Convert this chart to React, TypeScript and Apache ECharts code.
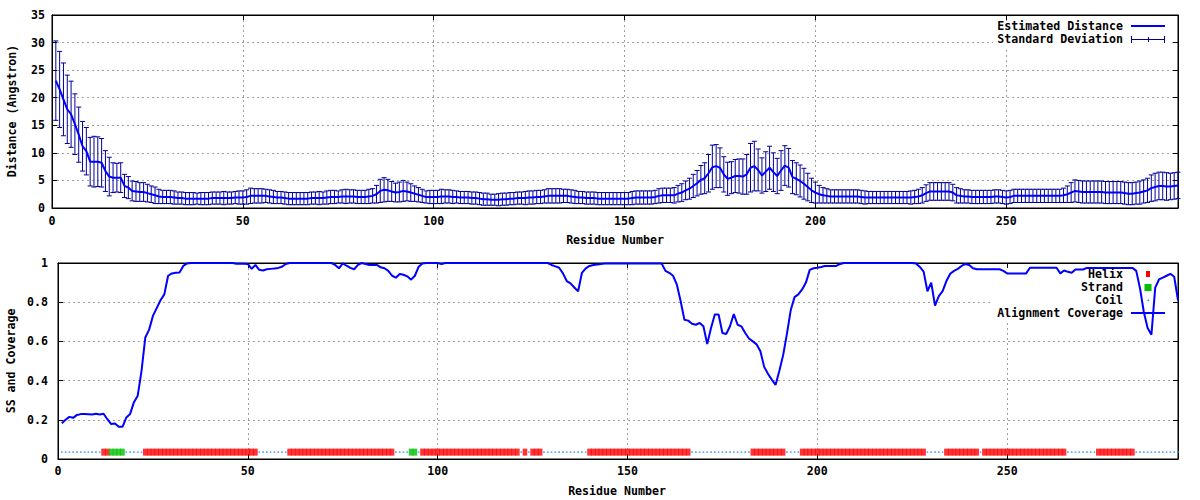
import React, { useEffect, useRef } from "react";
import * as echarts from "echarts";

// Estimated distance (Angstrom) per residue 1..295
const distance = [
  23.1, 21.5, 19.7, 17.9, 17.0, 15.2, 13.3, 11.2, 10.3, 8.4,
  8.4, 8.4, 8.2, 6.7, 5.7, 5.5, 5.5, 5.5, 4.0, 3.7,
  3.1, 3.0, 2.9, 2.9, 2.7, 2.5, 2.3, 2.1, 2.0, 2.0,
  2.0, 1.9, 1.8, 1.8, 1.7, 1.7, 1.7, 1.7, 1.7, 1.7,
  1.7, 1.8, 1.8, 1.8, 1.8, 1.8, 1.8, 1.9, 1.9, 1.9,
  2.0, 2.2, 2.2, 2.2, 2.2, 2.2, 2.1, 2.0, 1.9, 1.9,
  1.8, 1.7, 1.7, 1.7, 1.7, 1.7, 1.7, 1.8, 1.8, 1.8,
  1.8, 1.9, 2.0, 2.0, 2.0, 2.1, 2.1, 2.1, 2.1, 2.0,
  2.0, 2.0, 2.1, 2.2, 2.5, 3.1, 3.3, 3.2, 3.0, 2.8,
  2.9, 3.1, 3.0, 2.8, 2.6, 2.4, 2.2, 2.0, 2.0, 2.0,
  2.0, 2.1, 2.1, 2.1, 2.0, 2.0, 1.9, 1.9, 1.9, 1.8,
  1.8, 1.7, 1.6, 1.6, 1.5, 1.5, 1.5, 1.6, 1.6, 1.7,
  1.7, 1.8, 1.8, 1.8, 1.9, 1.9, 2.0, 2.0, 2.1, 2.2,
  2.2, 2.2, 2.2, 2.2, 2.2, 2.1, 2.0, 1.9, 1.9, 1.8,
  1.8, 1.8, 1.7, 1.7, 1.7, 1.7, 1.7, 1.7, 1.7, 1.7,
  1.7, 1.8, 1.9, 1.9, 1.9, 1.9, 1.9, 2.0, 2.2, 2.3,
  2.3, 2.3, 2.3, 2.6, 2.8, 3.2, 3.5, 4.0, 4.5, 5.1,
  5.4, 6.3, 7.4, 7.6, 7.3, 6.1, 5.3, 5.5, 5.8, 5.8,
  5.7, 6.1, 7.3, 7.6, 6.9, 5.9, 6.6, 7.3, 6.5, 5.8,
  6.8, 7.7, 7.3, 5.6, 5.3, 4.9, 4.4, 3.8, 3.2, 2.8,
  2.5, 2.3, 2.2, 2.1, 2.1, 2.1, 2.1, 2.1, 2.1, 2.1,
  2.1, 2.0, 1.9, 1.9, 1.9, 1.9, 1.9, 1.9, 1.9, 1.9,
  1.9, 1.9, 1.9, 1.9, 1.9, 2.0, 2.1, 2.3, 2.7, 3.0,
  3.0, 3.0, 3.0, 3.0, 3.0, 2.8, 2.3, 2.2, 2.1, 2.1,
  2.0, 2.0, 2.0, 2.0, 2.0, 2.0, 2.1, 2.1, 2.0, 1.9,
  2.0, 2.2, 2.2, 2.2, 2.2, 2.2, 2.2, 2.2, 2.2, 2.2,
  2.2, 2.2, 2.2, 2.2, 2.3, 2.5, 2.8, 3.1, 3.0, 2.9,
  2.9, 2.9, 2.9, 2.9, 2.9, 2.8, 2.8, 2.8, 2.8, 2.8,
  2.7, 2.6, 2.6, 2.7, 2.8, 3.0, 3.2, 3.6, 3.8, 4.0,
  4.0, 3.9, 3.9, 4.0, 4.1,
];

// Standard deviation per residue 1..295
const stdDev = [
  7.2, 6.9, 6.6, 6.2, 6.0, 5.5, 5.0, 4.5, 4.3, 4.4,
  4.6, 4.5, 4.4, 3.7, 3.5, 2.7, 2.6, 2.7, 2.1, 2.0,
  1.8, 1.8, 1.7, 1.7, 1.6, 1.5, 1.5, 1.3, 1.2, 1.2,
  1.2, 1.2, 1.1, 1.1, 1.1, 1.1, 1.1, 1.0, 1.1, 1.1,
  1.1, 1.1, 1.1, 1.1, 1.2, 1.1, 1.1, 1.1, 1.2, 1.2,
  1.3, 1.4, 1.3, 1.3, 1.3, 1.2, 1.2, 1.2, 1.1, 1.1,
  1.1, 1.1, 1.1, 1.1, 1.1, 1.1, 1.1, 1.1, 1.1, 1.2,
  1.1, 1.2, 1.2, 1.2, 1.1, 1.2, 1.3, 1.2, 1.2, 1.2,
  1.2, 1.2, 1.3, 1.3, 1.6, 2.1, 2.2, 2.0, 1.8, 1.7,
  1.8, 1.9, 1.7, 1.6, 1.4, 1.3, 1.2, 1.1, 1.2, 1.2,
  1.2, 1.3, 1.2, 1.2, 1.2, 1.1, 1.1, 1.1, 1.1, 1.1,
  1.1, 1.1, 1.1, 1.1, 1.0, 1.0, 1.1, 1.1, 1.1, 1.1,
  1.1, 1.1, 1.1, 1.2, 1.2, 1.2, 1.2, 1.2, 1.2, 1.3,
  1.3, 1.3, 1.3, 1.2, 1.2, 1.2, 1.2, 1.1, 1.1, 1.1,
  1.1, 1.1, 1.1, 1.1, 1.1, 1.1, 1.1, 1.1, 1.1, 1.1,
  1.1, 1.2, 1.2, 1.2, 1.2, 1.2, 1.2, 1.2, 1.3, 1.3,
  1.3, 1.3, 1.4, 1.5, 1.6, 1.7, 1.9, 2.1, 2.3, 2.6,
  2.8, 3.4, 4.0, 3.9, 3.6, 3.2, 3.0, 2.9, 3.0, 3.1,
  3.2, 3.6, 4.4, 4.5, 3.8, 3.2, 3.6, 3.9, 3.5, 3.2,
  3.6, 3.6, 3.5, 3.0, 2.9, 2.9, 2.8, 2.5, 2.2, 1.9,
  1.6, 1.4, 1.3, 1.2, 1.2, 1.2, 1.2, 1.2, 1.2, 1.2,
  1.2, 1.2, 1.2, 1.1, 1.1, 1.1, 1.1, 1.1, 1.1, 1.1,
  1.1, 1.1, 1.1, 1.1, 1.2, 1.2, 1.3, 1.4, 1.5, 1.6,
  1.6, 1.6, 1.6, 1.6, 1.6, 1.5, 1.4, 1.3, 1.2, 1.2,
  1.2, 1.2, 1.2, 1.2, 1.2, 1.2, 1.2, 1.2, 1.2, 1.2,
  1.2, 1.2, 1.2, 1.2, 1.2, 1.2, 1.2, 1.2, 1.2, 1.2,
  1.2, 1.2, 1.2, 1.2, 1.3, 1.5, 1.8, 2.0, 2.0, 2.0,
  2.0, 2.0, 2.0, 2.0, 2.0, 2.0, 2.0, 2.0, 2.0, 2.0,
  2.0, 2.0, 2.0, 2.0, 2.1, 2.1, 2.2, 2.4, 2.5, 2.5,
  2.5, 2.5, 2.4, 2.4, 2.4,
];

// Alignment coverage per residue 1..295
const coverage = [
  0.183, 0.200, 0.215, 0.210, 0.225, 0.229, 0.229, 0.228, 0.227, 0.231,
  0.227, 0.231, 0.203, 0.178, 0.181, 0.164, 0.164, 0.212, 0.230, 0.290,
  0.323, 0.450, 0.620, 0.660, 0.730, 0.770, 0.810, 0.840, 0.935, 0.947,
  0.950, 0.952, 0.985, 0.998, 1, 1, 1, 1, 1, 1,
  1, 1, 1, 1, 1, 1, 0.996, 0.996, 0.996, 0.995,
  0.970, 0.990, 0.965, 0.962, 0.968, 0.970, 0.972, 0.975, 0.981, 0.995,
  1, 1, 1, 1, 1, 1, 1, 1, 1, 1,
  1, 1, 0.990, 0.973, 0.998, 0.986, 0.975, 0.968, 0.990, 1,
  0.995, 0.990, 0.990, 0.990, 0.978, 0.973, 0.960, 0.935, 0.925, 0.944,
  0.940, 0.932, 0.915, 0.935, 0.981, 0.998, 1, 1, 1, 1,
  0.995, 1, 1, 1, 1, 1, 1, 1, 1, 1,
  1, 1, 1, 1, 1, 1, 1, 1, 1, 1,
  1, 1, 1, 1, 1, 1, 1, 1, 1, 0.990,
  0.983, 0.976, 0.947, 0.908, 0.896, 0.875, 0.856, 0.950, 0.973, 0.985,
  0.990, 0.992, 0.995, 0.997, 0.997, 0.997, 0.997, 0.997, 0.997, 0.997,
  0.997, 0.997, 0.997, 0.997, 0.997, 0.997, 0.997, 0.997, 0.997, 0.960,
  0.950, 0.935, 0.890, 0.805, 0.710, 0.706, 0.690, 0.685, 0.694, 0.677,
  0.586, 0.668, 0.737, 0.737, 0.643, 0.638, 0.677, 0.740, 0.685, 0.677,
  0.643, 0.615, 0.600, 0.585, 0.550, 0.470, 0.435, 0.405, 0.378, 0.450,
  0.530, 0.640, 0.760, 0.826, 0.840, 0.865, 0.900, 0.965, 0.973, 0.976,
  0.980, 0.985, 0.985, 0.985, 0.985, 0.995, 1, 1, 1, 1,
  1, 1, 1, 1, 1, 1, 1, 1, 1, 1,
  1, 1, 1, 1, 1, 0.997, 0.980, 0.956, 0.856, 0.900,
  0.783, 0.831, 0.856, 0.908, 0.945, 0.960, 0.970, 0.985, 0.995, 0.990,
  0.973, 0.968, 0.968, 0.968, 0.968, 0.968, 0.968, 0.968, 0.960, 0.947,
  0.947, 0.947, 0.947, 0.947, 0.947, 0.976, 0.976, 0.976, 0.976, 0.976,
  0.976, 0.976, 0.976, 0.947, 0.962, 0.955, 0.950, 0.967, 0.967, 0.967,
  0.975, 0.975, 0.975, 0.975, 0.975, 0.975, 0.975, 0.975, 0.975, 0.975,
  0.975, 0.975, 0.975, 0.960, 0.870, 0.750, 0.668, 0.634, 0.874, 0.916,
  0.925, 0.935, 0.945, 0.930, 0.810,
];

// Secondary structure segments (residue ranges)
const helixRanges = [
  [12, 13], [23, 52], [61, 88], [96, 121], [123, 123], [125, 127],
  [140, 166], [183, 191], [196, 228], [234, 242], [244, 265], [274, 283],
];
const strandRanges = [[14, 17], [93, 94]];
const ssLevel = 0.035;

const FONT = "'DejaVu Sans Mono', 'Liberation Mono', monospace";
const FS = 11.6;
const BLUE = "#0000ff";
const ERR = "#000099";
const RED = "#ff0000";
const GREEN = "#00c000";
const COIL = "#1e90ff";

function expand(ranges: number[][]): number[] {
  const out: number[] = [];
  ranges.forEach(([a, b]) => {
    for (let r = a; r <= b; r++) out.push(r);
  });
  return out;
}

const txt = (text: string, x: number, y: number, align = "right", rotation = 0) => ({
  type: "text",
  x,
  y,
  rotation,
  z: 6,
  style: {
    text,
    fill: "#000",
    fontSize: FS,
    fontFamily: FONT,
    fontWeight: "bold",
    align,
    verticalAlign: "middle",
  },
});

const line = (x1: number, y1: number, x2: number, y2: number, stroke: string, w: number) => ({
  type: "line",
  z: 6,
  shape: { x1, y1, x2, y2 },
  style: { stroke, lineWidth: w },
});

const rect = (x: number, y: number, w: number, h: number, fill: string, z = 6) => ({
  type: "rect",
  z,
  shape: { x, y, width: w, height: h },
  style: { fill },
});

export default function App() {
  const ref = useRef<HTMLDivElement>(null);

  useEffect(() => {
    if (!ref.current) return;
    const chart = echarts.init(ref.current, undefined, { renderer: "svg" });

    const residues = distance.map((_, i) => i + 1);
    const helix = expand(helixRanges);
    const strand = expand(strandRanges);
    const ssSet = new Set([...helix, ...strand]);
    const coil = residues.filter((r) => !ssSet.has(r));

    const labelStyle = { color: "#000", fontSize: FS, fontFamily: FONT, fontWeight: "bold" };
    const split = { show: true, lineStyle: { color: "#a0a0a0", type: [2, 3], width: 1 } };
    const axLine = { show: true, onZero: false, lineStyle: { color: "#000", width: 1 } };
    const tick = { show: true, inside: true, length: 5, lineStyle: { color: "#000" } };
    const xFmt = (v: number) => (v % 50 === 0 ? String(v) : "");

    const xAxisFor = (gridIndex: number, margin: number) => [
      {
        gridIndex, type: "value", min: 0, max: 295, interval: 50, position: "bottom",
        axisLine: axLine, axisTick: tick,
        axisLabel: { ...labelStyle, margin, formatter: xFmt, showMaxLabel: false },
        splitLine: split,
      },
      {
        gridIndex, type: "value", min: 0, max: 295, interval: 50, position: "top",
        axisLine: axLine, axisTick: tick, axisLabel: { show: false }, splitLine: { show: false },
      },
    ];

    const option: any = {
      animation: false,
      backgroundColor: "#fff",
      textStyle: { fontFamily: FONT },
      grid: [
        { left: 52, top: 15, width: 1126, height: 193, show: true, borderColor: "#000", borderWidth: 1 },
        { left: 58, top: 263, width: 1120, height: 196, show: true, borderColor: "#000", borderWidth: 1 },
      ],
      xAxis: [...xAxisFor(0, 7), ...xAxisFor(1, 6)],
      yAxis: [
        {
          gridIndex: 0, type: "value", min: 0, max: 35, interval: 5, position: "left",
          axisLine: axLine, axisTick: tick, axisLabel: { ...labelStyle, margin: 7 }, splitLine: split,
        },
        {
          gridIndex: 0, type: "value", min: 0, max: 35, interval: 5, position: "right",
          axisLine: axLine, axisTick: tick, axisLabel: { show: false }, splitLine: { show: false },
        },
        {
          gridIndex: 1, type: "value", min: 0, max: 1, interval: 0.2, position: "left",
          axisLine: axLine, axisTick: tick, axisLabel: { ...labelStyle, margin: 10 }, splitLine: split,
        },
        {
          gridIndex: 1, type: "value", min: 0, max: 1, interval: 0.2, position: "right",
          axisLine: axLine, axisTick: tick, axisLabel: { show: false }, splitLine: { show: false },
        },
      ],
      series: [
        {
          name: "Standard Deviation",
          type: "custom",
          xAxisIndex: 0,
          yAxisIndex: 0,
          z: 3,
          encode: { x: 0, y: [1, 2] },
          data: residues.map((r, i) => [r, distance[i] - stdDev[i], distance[i] + stdDev[i]]),
          renderItem: (_params: any, api: any) => {
            const x = api.value(0);
            const lo = api.coord([x, api.value(1)]);
            const hi = api.coord([x, api.value(2)]);
            const cap = 2.5;
            const st = { stroke: ERR, lineWidth: 1, fill: "none" };
            return {
              type: "group",
              children: [
                { type: "line", shape: { x1: lo[0], y1: lo[1], x2: hi[0], y2: hi[1] }, style: st },
                { type: "line", shape: { x1: lo[0] - cap, y1: lo[1], x2: lo[0] + cap, y2: lo[1] }, style: st },
                { type: "line", shape: { x1: hi[0] - cap, y1: hi[1], x2: hi[0] + cap, y2: hi[1] }, style: st },
              ],
            };
          },
        },
        {
          name: "Estimated Distance",
          type: "line",
          xAxisIndex: 0,
          yAxisIndex: 0,
          z: 4,
          showSymbol: false,
          symbol: "none",
          lineStyle: { color: BLUE, width: 2 },
          data: residues.map((r, i) => [r, distance[i]]),
        },
        {
          name: "Coil",
          type: "scatter",
          xAxisIndex: 2,
          yAxisIndex: 2,
          z: 3,
          symbol: "rect",
          symbolSize: [1.6, 1.6],
          itemStyle: { color: COIL },
          data: coil.map((r) => [r, ssLevel]),
        },
        {
          name: "Helix",
          type: "scatter",
          xAxisIndex: 2,
          yAxisIndex: 2,
          z: 4,
          symbol: "rect",
          symbolSize: [4.6, 7],
          itemStyle: { color: RED },
          data: helix.map((r) => [r, ssLevel]),
        },
        {
          name: "Strand",
          type: "scatter",
          xAxisIndex: 2,
          yAxisIndex: 2,
          z: 4,
          symbol: "rect",
          symbolSize: [4.6, 7],
          itemStyle: { color: GREEN },
          data: strand.map((r) => [r, ssLevel]),
        },
        {
          name: "Alignment Coverage",
          type: "line",
          xAxisIndex: 2,
          yAxisIndex: 2,
          z: 5,
          showSymbol: false,
          symbol: "none",
          lineStyle: { color: BLUE, width: 2 },
          data: residues.map((r, i) => [r, coverage[i]]),
        },
      ],
      graphic: {
        elements: [
          // legend backgrounds
          rect(993, 21, 178, 27, "#fff", 1),
          rect(993, 268, 178, 53, "#fff", 1),
          // top legend
          txt("Estimated Distance", 1123, 26),
          line(1131, 26, 1165, 26, BLUE, 2),
          txt("Standard Deviation", 1123, 39),
          line(1131, 39.5, 1165, 39.5, ERR, 1),
          line(1131.5, 36, 1131.5, 43, ERR, 1),
          line(1164.5, 36, 1164.5, 43, ERR, 1),
          line(1148.5, 37, 1148.5, 42, ERR, 1),
          // bottom legend
          txt("Helix", 1123, 274),
          rect(1146, 271, 4, 6, RED),
          txt("Strand", 1123, 287),
          rect(1144.5, 284, 7, 7, GREEN),
          txt("Coil", 1123, 300),
          rect(1147.5, 299.5, 1.6, 1.6, COIL),
          txt("Alignment Coverage", 1123, 313),
          line(1131, 313, 1165, 313, BLUE, 2),
          // axis titles
          txt("Distance (Angstron)", 12, 111, "center", Math.PI / 2),
          txt("Residue Number", 615, 240, "center"),
          txt("SS and Coverage", 11, 361, "center", Math.PI / 2),
          txt("Residue Number", 617, 491, "center"),
        ],
      },
    };

    chart.setOption(option);
    return () => chart.dispose();
  }, []);

  return (
    <div
      ref={ref}
      style={{ position: "absolute", left: 0, top: 0, width: 1200, height: 500, background: "#fff" }}
    />
  );
}
